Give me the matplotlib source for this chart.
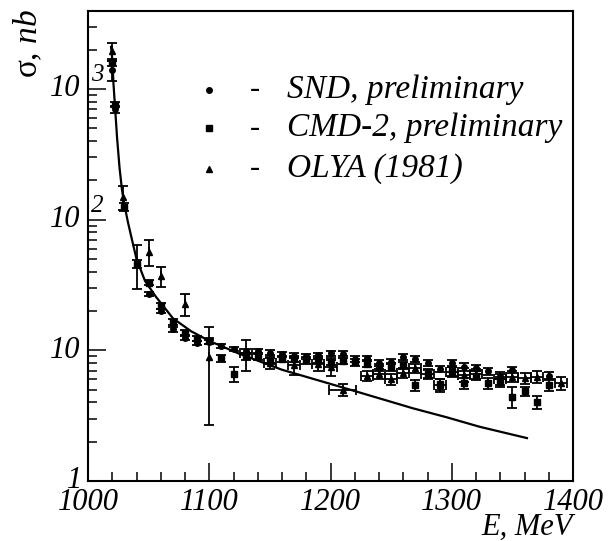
import matplotlib
matplotlib.use('Agg')
import matplotlib.pyplot as plt
from matplotlib.ticker import MultipleLocator, LogLocator, NullFormatter

plt.rcParams['font.family'] = 'Liberation Serif'
plt.rcParams['font.style'] = 'italic'
plt.rcParams['mathtext.fontset'] = 'custom'
plt.rcParams['mathtext.rm'] = 'Liberation Serif'
plt.rcParams['mathtext.it'] = 'Liberation Serif:italic'

# fitted curve
curve_e = [1019, 1020, 1021, 1022.3, 1024, 1026, 1028, 1030, 1033, 1036, 1040, 1047,
           1056, 1070, 1085, 1100, 1125, 1160, 1213, 1268, 1296, 1323, 1362]
curve_s = [2100, 1700, 1100, 727, 420, 250, 170, 130, 95, 72, 50, 34,
           25.7, 17.6, 14, 11.8, 9.4, 7.1, 5.1, 3.6, 3.07, 2.6, 2.13]

# SND, preliminary
snd_e = [1019.5, 1022.3, 1050, 1060, 1070, 1080, 1090, 1100, 1110, 1120,
         1130, 1140, 1150, 1160, 1170, 1180, 1190, 1200, 1210, 1220,
         1230, 1240, 1250, 1260, 1270, 1280, 1290, 1300, 1310, 1320,
         1330, 1340, 1350, 1380]
snd_s = [1400, 700, 27, 20, 14.5, 12.5, 11.3, 11.5, 10.8, 10.2,
         9.8, 9.8, 9.6, 9.3, 9.1, 9.0, 9.2, 9.5, 9.4, 8.6,
         8.7, 8.0, 8.2, 8.9, 8.6, 8.0, 7.2, 8.0, 7.5, 7.3,
         6.9, 6.4, 7.1, 6.4]
snd_err = [250, 40, 1.0, 0.8, 0.6, 0.5, 0.4, 0.4, 0.4, 0.4,
           0.4, 0.4, 0.4, 0.4, 0.4, 0.4, 0.4, 0.4, 0.4, 0.4,
           0.4, 0.4, 0.4, 0.4, 0.4, 0.4, 0.4, 0.4, 0.5, 0.4,
           0.4, 0.4, 0.4, 0.4]

# CMD-2, preliminary
cmd_e = [1019.8, 1022.5, 1029.5, 1040, 1050, 1060, 1070, 1080, 1090, 1100,
         1110, 1120, 1130, 1140, 1150, 1160, 1170, 1180, 1190, 1200,
         1210, 1220, 1230, 1240, 1250, 1260, 1270, 1280, 1290, 1300,
         1310, 1320, 1330, 1340, 1350, 1360, 1370, 1380]
cmd_s = [1600, 760, 125, 46, 33, 22, 16.5, 13.5, 12.3, 11.8,
         8.7, 6.6, 9.0, 9.0, 8.4, 8.6, 8.6, 8.4, 8.5, 8.2,
         8.3, 8.1, 7.9, 7.4, 7.5, 7.7, 5.4, 6.6, 5.5, 6.9,
         5.6, 6.4, 5.6, 5.7, 4.4, 4.85, 4.0, 5.4]
cmd_err = [100, 30, 8, 3, 1.5, 1.2, 0.9, 0.7, 0.6, 0.6,
           0.5, 0.9, 0.5, 0.5, 0.5, 0.5, 0.5, 0.5, 0.5, 0.5,
           0.5, 0.5, 0.5, 0.5, 0.5, 0.5, 0.5, 0.5, 0.5, 0.5,
           0.5, 0.5, 0.5, 0.5, 0.8, 0.4, 0.45, 0.5]

# OLYA (1981)
olya_e = [1019.5, 1029, 1040, 1050, 1060, 1080, 1100, 1130, 1150, 1170,
          1190, 1200, 1210, 1230, 1240, 1250, 1260, 1270, 1280, 1290,
          1300, 1310, 1320, 1340, 1350, 1360, 1370, 1390]
olya_s = [1950, 150, 47, 57, 37, 22.6, 8.9, 9.5, 8.0, 7.7,
          7.8, 7.4, 5.0, 6.4, 6.6, 6.0, 6.7, 7.3, 6.6, 5.4,
          6.8, 6.5, 6.6, 6.0, 6.3, 6.1, 6.3, 5.6]
olya_err = [300, 32, 17.5, 13, 6.5, 4.2, 6.2, 2.5, 0.8, 1.2,
            0.8, 1.0, 0.5, 0.6, 0.6, 0.6, 0.6, 0.6, 0.6, 0.6,
            0.6, 0.8, 0.6, 0.6, 0.6, 0.6, 0.7, 0.6]
olya_xerr = [0, 0, 0, 0, 0, 0, 0, 5, 5, 5,
             5, 5, 11, 5, 5, 5, 5, 5, 5, 5,
             5, 5, 5, 5, 5, 5, 5, 5]

x_ticks = [1000, 1100, 1200, 1300, 1400]
y_ticks = [1, 10, 100, 1000]

ital = dict(family='Liberation Serif', style='italic')

fig = plt.figure(figsize=(6.08, 5.41), dpi=100)
ax = fig.add_axes([88/608, 60/541, 485/608, 470/541])
ax.set_yscale('log')

ax.plot(curve_e, curve_s, color='k', lw=1.6)

eb = dict(color='k', ecolor='k', elinewidth=1.3, capsize=3.5, capthick=1.3, ls='none')
ax.errorbar(snd_e, snd_s, yerr=snd_err, fmt='o', ms=4.0, **eb)
ax.errorbar(cmd_e, cmd_s, yerr=cmd_err, fmt='s', ms=3.8, **eb)
ax.errorbar(olya_e, olya_s, yerr=olya_err, xerr=olya_xerr, fmt='^', ms=4.4, **eb)

ax.set_xlim(1000, 1400)
ax.set_ylim(1, 3950)

for s in ax.spines.values():
    s.set_linewidth(1.5)
ax.tick_params(which='both', direction='in', top=False, right=False)
ax.tick_params(which='major', length=13, width=1.1, pad=5)
ax.tick_params(which='minor', length=6.5, width=1.1)
ax.set_xticks(x_ticks, labels=[str(t) for t in x_ticks], fontsize=22, **ital)
ax.xaxis.set_minor_locator(MultipleLocator(20))
ax.set_yticks(y_ticks)
ax.yaxis.set_minor_locator(LogLocator(base=10, subs=range(2, 10)))
ax.yaxis.set_major_formatter(NullFormatter())
ax.yaxis.set_minor_formatter(NullFormatter())

# ROOT-style y labels
for t in y_ticks:
    if t == 1:
        ax.annotate('1', xy=(0, t), xycoords=('axes fraction', 'data'),
                    xytext=(-6, 0), textcoords='offset pixels',
                    ha='right', va='center', fontsize=22, **ital)
    else:
        ax.annotate('10', xy=(0, t), xycoords=('axes fraction', 'data'),
                    xytext=(-8, 0), textcoords='offset pixels',
                    ha='right', va='center', fontsize=22, **ital)
        if t > 10:
            ax.annotate(str(len(str(t)) - 1), xy=(0, t), xycoords=('axes fraction', 'data'),
                        xytext=(3, 3), textcoords='offset pixels',
                        ha='left', va='bottom', fontsize=18, **ital)

fig.text(28/608, 1 - 9/541, 'σ, $\\mathit{nb}$', rotation=90, ha='center', va='top',
         fontsize=24, family='Liberation Serif', style='normal')
fig.text(573/608, 1 - 535/541, 'E, MeV', ha='right', va='baseline', fontsize=22, **ital)

# legend drawn by hand
leg = [('o', 4.0, 'SND, preliminary'), ('s', 3.8, 'CMD-2, preliminary'), ('^', 3.8, 'OLYA (1981)')]
leg_y = [0.832, 0.751, 0.664]
for (m, ms, lab), y in zip(leg, leg_y):
    ax.plot([0.249], [y], m, ms=ms, color='k', transform=ax.transAxes)
    ax.text(0.344, y, '-', transform=ax.transAxes, ha='center', va='center',
            fontsize=22, family='Liberation Serif', style='normal')
    ax.text(0.410, y, lab, transform=ax.transAxes, ha='left', va='center',
            fontsize=24, **ital)

fig.savefig('out.png', dpi=100)
